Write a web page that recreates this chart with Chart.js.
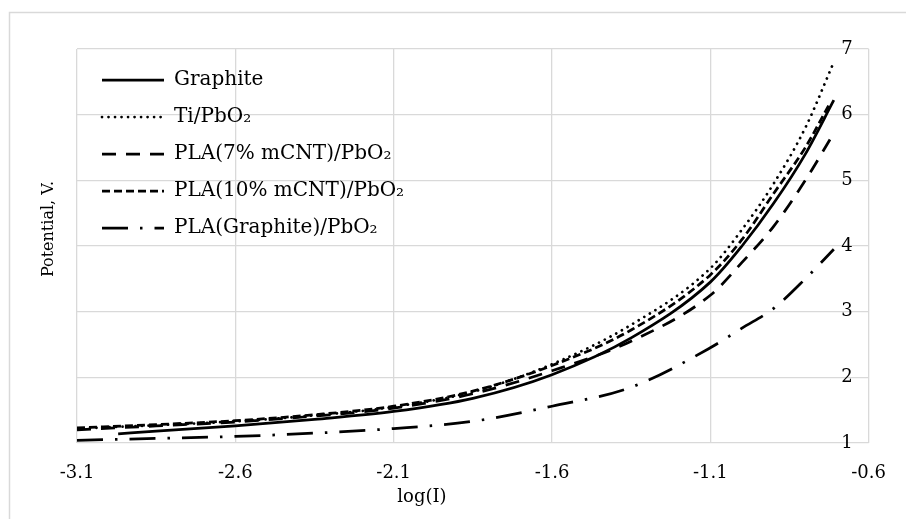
<!DOCTYPE html>
<html>
<head>
<meta charset="utf-8">
<script src="https://cdn.jsdelivr.net/npm/chart.js@4"></script>
<style>
  html, body { margin: 0; padding: 0; background: #fff; }
  canvas { display: block; }
</style>
</head>
<body>
<canvas id="chart" width="906" height="519"></canvas>
<script>
// series data (x = log(I), y = potential in V)
const seriesNames = ['Graphite', 'Ti/PbO₂', 'PLA(7% mCNT)/PbO₂', 'PLA(10% mCNT)/PbO₂', 'PLA(Graphite)/PbO₂'];
const graphiteX = [-2.97, -2.85, -2.6, -2.35, -2.1, -1.85, -1.6, -1.35, -1.1, -1.0, -0.9, -0.8, -0.71];
const graphiteY = [1.14, 1.18, 1.26, 1.36, 1.48, 1.68, 2.04, 2.6, 3.45, 4.0, 4.65, 5.4, 6.22];
const tiX = [-3.1, -2.85, -2.6, -2.35, -2.1, -1.85, -1.6, -1.35, -1.1, -1.0, -0.9, -0.8, -0.71];
const tiY = [1.22, 1.27, 1.33, 1.42, 1.55, 1.78, 2.2, 2.8, 3.66, 4.25, 4.95, 5.8, 6.8];
const pla7X = [-3.1, -2.85, -2.6, -2.35, -2.1, -1.85, -1.6, -1.35, -1.1, -1.0, -0.9, -0.8, -0.71];
const pla7Y = [1.2, 1.26, 1.32, 1.41, 1.53, 1.75, 2.1, 2.55, 3.25, 3.75, 4.3, 5.0, 5.72];
const pla10X = [-3.1, -2.85, -2.6, -2.35, -2.1, -1.85, -1.6, -1.35, -1.1, -1.0, -0.9, -0.8, -0.725];
const pla10Y = [1.23, 1.28, 1.34, 1.43, 1.56, 1.79, 2.18, 2.72, 3.56, 4.1, 4.8, 5.5, 6.15];
const plaGX = [-3.1, -2.85, -2.6, -2.35, -2.1, -1.85, -1.6, -1.35, -1.1, -1.0, -0.9, -0.8, -0.71];
const plaGY = [1.04, 1.07, 1.1, 1.15, 1.22, 1.33, 1.56, 1.85, 2.45, 2.75, 3.05, 3.5, 3.95];

const xMin = -3.1, xMax = -0.6, xStep = 0.5;
const yMin = 1, yMax = 7, yStep = 1;
const yCross = -0.65; // vertical axis labels sit just left of this x value
const xTitle = 'log(I)';
const yTitle = 'Potential, V.';

const FONT = "'DejaVu Serif', 'Liberation Serif', serif";
const pts = (xs, ys) => xs.map((x, i) => ({ x: x, y: ys[i] }));

function line(label, data, dash, cap) {
  return {
    label: label,
    data: data,
    borderColor: '#000',
    backgroundColor: '#000',
    borderWidth: 2.75,
    borderDash: dash,
    borderCapStyle: cap || 'butt',
    pointRadius: 0,
    cubicInterpolationMode: 'monotone',
    fill: false
  };
}

// light frame around the chart and free-standing axis titles
const frame = {
  id: 'frame',
  beforeDraw(chart) {
    const c = chart.ctx;
    c.save();
    c.fillStyle = '#fff';
    c.fillRect(0, 0, chart.width, chart.height);
    c.strokeStyle = '#d9d9d9';
    c.lineWidth = 1.5;
    c.strokeRect(9.5, 12.5, 1200, 1200);
    c.restore();
  },
  afterLayout(chart) {
    const lg = chart.legend;
    lg.left = chart.chartArea.left + 8;
    lg.top = chart.chartArea.top + 4;
  },
  afterDraw(chart) {
    const c = chart.ctx;
    c.save();
    c.fillStyle = '#000';
    c.textAlign = 'center';
    c.textBaseline = 'middle';
    c.font = '18px ' + FONT;
    c.fillText(xTitle, 422, 497);
    c.font = '16px ' + FONT;
    c.translate(49, 229);
    c.rotate(-Math.PI / 2);
    c.fillText(yTitle, 0, 0);
    c.restore();
  }
};

new Chart(document.getElementById('chart'), {
  type: 'line',
  data: {
    datasets: [
      line(seriesNames[0], pts(graphiteX, graphiteY), []),
      line(seriesNames[1], pts(tiX, tiY), [0.01, 6.5], 'round'),
      line(seriesNames[2], pts(pla7X, pla7Y), [14, 10]),
      line(seriesNames[3], pts(pla10X, pla10Y), [8, 4]),
      line(seriesNames[4], pts(plaGX, plaGY), [26, 12, 2.5, 12])
    ]
  },
  options: {
    responsive: false,
    devicePixelRatio: 1,
    animation: false,
    layout: { padding: { left: 77, right: 31, top: 49, bottom: 0 } },
    plugins: {
      legend: {
        position: 'chartArea',
        align: 'start',
        labels: {
          color: '#000',
          font: { family: FONT, size: 20 },
          usePointStyle: true,
          pointStyle: 'line',
          pointStyleWidth: 62,
          padding: 17,
          generateLabels(chart) {
            const items = Chart.defaults.plugins.legend.labels.generateLabels(chart);
            items.forEach(it => {
              const ds = chart.data.datasets[it.datasetIndex];
              it.lineDash = ds.borderDash;
              it.lineCap = ds.borderCapStyle;
              it.lineWidth = ds.borderWidth;
              it.strokeStyle = ds.borderColor;
            });
            return items;
          }
        }
      },
      tooltip: { enabled: false }
    },
    scales: {
      x: {
        type: 'linear',
        min: xMin,
        max: xMax,
        afterFit(s) { s.height = 76; },
        afterBuildTicks(s) {
          const t = [];
          for (let v = xMin; v <= xMax + 1e-9; v += xStep) t.push({ value: +v.toFixed(2) });
          s.ticks = t;
        },
        ticks: {
          color: '#000',
          font: { family: FONT, size: 18 },
          padding: 20,
          maxRotation: 0,
          callback: v => v.toFixed(1)
        },
        grid: { color: '#d9d9d9', lineWidth: 1.3, drawTicks: false },
        border: { display: false }
      },
      y: {
        type: 'linear',
        position: { x: yCross },
        min: yMin,
        max: yMax,
        ticks: {
          stepSize: yStep,
          color: '#000',
          font: { family: FONT, size: 18 }
        },
        grid: { color: '#d9d9d9', lineWidth: 1.3, drawTicks: false },
        border: { display: false }
      }
    }
  },
  plugins: [frame]
});
</script>
</body>
</html>
